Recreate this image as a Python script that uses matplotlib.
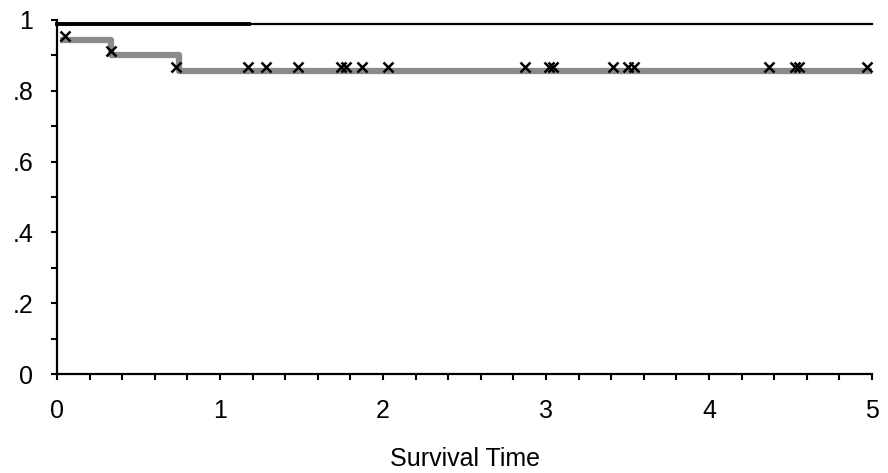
import matplotlib
matplotlib.use('Agg')
import matplotlib.pyplot as plt
from matplotlib.ticker import MultipleLocator, FixedLocator, FixedFormatter
import matplotlib.transforms as mtransforms

# Group without events (flat line)
flat_level = 0.99
flat_end = 5.0
flat_thick_end = 1.18

# Step curve of the second group
step_times = [0.02, 0.33, 0.75, 5.0]
step_surv = [0.944, 0.90, 0.855, 0.855]

# Censored observations
cens_times = [0.05, 0.33, 0.73, 1.17, 1.28, 1.48, 1.74, 1.77, 1.87, 2.03,
              2.87, 3.02, 3.04, 3.41, 3.50, 3.54, 4.37, 4.53, 4.55, 4.97]
cens_surv = [0.944, 0.90, 0.855, 0.855, 0.855, 0.855, 0.855, 0.855, 0.855, 0.855,
             0.855, 0.855, 0.855, 0.855, 0.855, 0.855, 0.855, 0.855, 0.855, 0.855]

y_ticks = [0, 0.2, 0.4, 0.6, 0.8, 1.0]
y_labels = ['0', '.2', '.4', '.6', '.8', '1']
x_ticks = [0, 1, 2, 3, 4, 5]

plt.rcParams['font.family'] = ['Liberation Sans', 'DejaVu Sans']

fig = plt.figure(figsize=(8.88, 4.73), dpi=100)
ax = fig.add_axes([57 / 888, 1 - 374 / 473, (872 - 57) / 888, (374 - 20) / 473])

# flat black line
ax.plot([0, flat_end], [flat_level, flat_level], color='black', lw=1.6, clip_on=False, zorder=3)
ax.plot([0, flat_thick_end], [flat_level, flat_level], color='black', lw=2.8, clip_on=False, zorder=3)

# gray step curve
ax.step(step_times, step_surv, where='post', color='#8a8a8a', lw=4.5, solid_capstyle='butt', zorder=2)

# censor marks, drawn sitting on top of the band
offset = mtransforms.ScaledTranslation(0, 4 / 100, fig.dpi_scale_trans)
ax.plot(cens_times, cens_surv, linestyle='none', marker='x', color='black',
        markersize=7.5, markeredgewidth=1.8, transform=ax.transData + offset, zorder=4, clip_on=False)

ax.set_xlim(0, 5)
ax.set_ylim(0, 1)

ax.xaxis.set_major_locator(FixedLocator(x_ticks))
ax.xaxis.set_minor_locator(MultipleLocator(0.2))
ax.yaxis.set_major_locator(FixedLocator(y_ticks))
ax.yaxis.set_major_formatter(FixedFormatter(y_labels))
ax.yaxis.set_minor_locator(MultipleLocator(0.1))

for side in ['top', 'right']:
    ax.spines[side].set_visible(False)
for side in ['left', 'bottom']:
    ax.spines[side].set_linewidth(1.6)

ax.tick_params(axis='both', which='both', direction='out', length=4, width=1.5, labelsize=18)
ax.tick_params(axis='x', which='major', pad=14)
ax.tick_params(axis='y', which='major', pad=13)

ax.set_xlabel('Survival Time', fontsize=18, labelpad=17)

fig.savefig('out.png', dpi=100)
